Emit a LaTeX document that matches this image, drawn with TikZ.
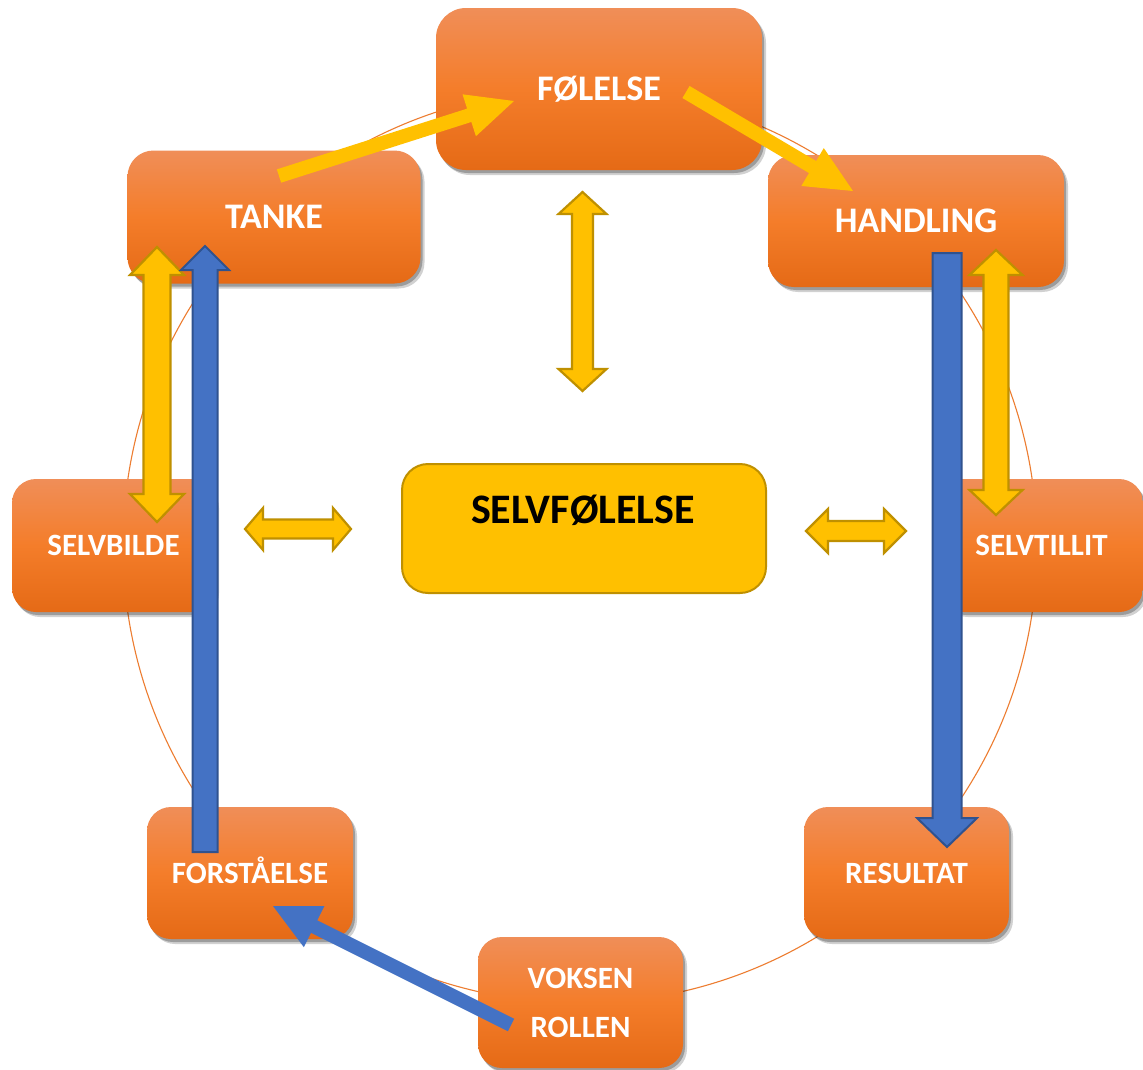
\documentclass[tikz,border=0pt]{standalone}
\usepackage{fontspec}
\setmainfont{Carlito}
\usetikzlibrary{calc,shadows}
\definecolor{ortop}{RGB}{240,142,88}
\definecolor{ormid}{RGB}{244,125,42}
\definecolor{orbot}{RGB}{229,106,22}
\definecolor{ringc}{RGB}{237,125,49}
\definecolor{yel}{RGB}{255,192,0}
\definecolor{yelline}{RGB}{191,144,0}
\definecolor{blu}{RGB}{68,114,196}
\definecolor{bluline}{RGB}{47,82,143}
% single block arrow: style, from, to, half shaft, half head, head length
\newcommand\singlearrow[6]{%
  \coordinate (hb) at ($(#3)!#6!(#2)$);
  \path[#1] ($(#2)!#4!90:(#3)$) -- ($(hb)!#4!90:(#3)$) -- ($(hb)!#5!90:(#3)$) -- (#3)
    -- ($(hb)!#5!-90:(#3)$) -- ($(hb)!#4!-90:(#3)$) -- ($(#2)!#4!-90:(#3)$) -- cycle;}
% double block arrow
\newcommand\doublearrow[6]{%
  \coordinate (ha) at ($(#2)!#6!(#3)$);
  \coordinate (hb) at ($(#3)!#6!(#2)$);
  \path[#1] (#2) -- ($(ha)!#5!90:(#3)$) -- ($(ha)!#4!90:(#3)$) -- ($(hb)!#4!90:(#3)$)
    -- ($(hb)!#5!90:(#3)$) -- (#3) -- ($(hb)!#5!-90:(#3)$) -- ($(hb)!#4!-90:(#3)$)
    -- ($(ha)!#4!-90:(#3)$) -- ($(ha)!#5!-90:(#3)$) -- cycle;}
\begin{document}
\begin{tikzpicture}[x=1pt,y=-1pt,
  obox/.style={rounded corners=24pt, top color=ortop, bottom color=orbot, middle color=ormid,
    text=white, inner sep=0pt, font=\bfseries\fontsize{31}{49}\selectfont,
    text height=20pt, text depth=0pt, align=center,
    drop shadow={shadow xshift=4pt,shadow yshift=-5pt,opacity=0.18,fill=black},
    drop shadow={shadow xshift=2pt,shadow yshift=-3pt,opacity=0.25,fill=black}},
  bigbox/.style={rounded corners=30pt, font=\bfseries\fontsize{36}{42}\selectfont, text height=23pt},
  ring/.style={draw=ringc, line width=1.1pt},
  ys/.style={fill=yel},
  yd/.style={fill=yel, draw=yelline, line width=2.2pt, line join=miter},
  bs/.style={fill=blu},
  bd/.style={fill=blu, draw=bluline, line width=2pt, line join=miter}]
\useasboundingbox (0,0) rectangle (1143,1069);
\fill[white] (0,0) rectangle (1143,1069);
% ring
\coordinate (ringcenter) at (580,546);
\draw[ring] (ringcenter) circle[radius=457];
% boxes
\node[obox,bigbox,minimum width=326pt,minimum height=162pt] (fol) at (599,89) {FØLELSE};
\node[obox,bigbox,rounded corners=26pt,minimum width=293pt,minimum height=133pt] (tanke) at (274,217) {TANKE};
\node[obox,bigbox,rounded corners=26pt,minimum width=296pt,minimum height=132pt] (handling) at (916,221) {HANDLING};
\node[obox,minimum width=203pt,minimum height=133pt] (selvbilde) at (113.5,545.5) {SELVBILDE};
\node[obox,minimum width=203pt,minimum height=133pt] (selvtillit) at (1041.5,545.5) {SELVTILLIT};
\node[obox,minimum width=206pt,minimum height=132pt] (forst) at (250,873) {FORSTÅELSE};
\node[obox,minimum width=205pt,minimum height=132pt] (result) at (906.5,873) {RESULTAT};
\node[obox,minimum width=205pt,minimum height=131pt,text height=,text depth=] (voksen) at (580.5,1002.5) {VOKSEN\\ROLLEN};
% centre box
\node[fill=yel, draw=yelline, line width=2pt, rounded corners=26pt,
  minimum width=364pt, minimum height=129pt] (selvf) at (584,528.5) {};
\node[font=\bfseries\fontsize{42}{48}\selectfont, text=black, text height=27pt, text depth=0pt, inner sep=0pt]
  (selvftext) at ($(selvf.center)+(-1,-18.5)$) {SELVFØLELSE};
% arrow end points
\coordinate (a1s) at (279,176);  \coordinate (a1e) at (514,101);
\coordinate (a2s) at (686,92);   \coordinate (a2e) at (853,191);
\coordinate (a3s) at (582.5,192); \coordinate (a3e) at (582.5,391);
\coordinate (a4s) at (157,247);  \coordinate (a4e) at (157,522);
\coordinate (a5s) at (996,250);  \coordinate (a5e) at (996,515);
\coordinate (a6s) at (245,529);  \coordinate (a6e) at (351,529);
\coordinate (a7s) at (806,531);  \coordinate (a7e) at (906,531);
\coordinate (b1s) at (205,852);  \coordinate (b1e) at (205,246);
\coordinate (b2s) at (947,253);  \coordinate (b2e) at (947,847);
\coordinate (b3s) at (511,1025); \coordinate (b3e) at (273,906);
% yellow arrows
\singlearrow{ys}{a1s}{a1e}{7pt}{22pt}{47pt}
\singlearrow{ys}{a2s}{a2e}{7pt}{22pt}{47pt}
\doublearrow{yd}{a3s}{a3e}{10.5pt}{24pt}{22pt}
\doublearrow{yd}{a4s}{a4e}{13.5pt}{27pt}{28pt}
\doublearrow{yd}{a5s}{a5e}{12.5pt}{26.5pt}{25pt}
\doublearrow{yd}{a6s}{a6e}{9.5pt}{21pt}{18pt}
\doublearrow{yd}{a7s}{a7e}{10pt}{22pt}{22pt}
% blue arrows
\singlearrow{bd}{b1s}{b1e}{12.5pt}{24pt}{24pt}
\singlearrow{bd}{b2s}{b2e}{14.5pt}{30pt}{29pt}
\singlearrow{bs}{b3s}{b3e}{7pt}{23pt}{46pt}
\end{tikzpicture}
\end{document}
